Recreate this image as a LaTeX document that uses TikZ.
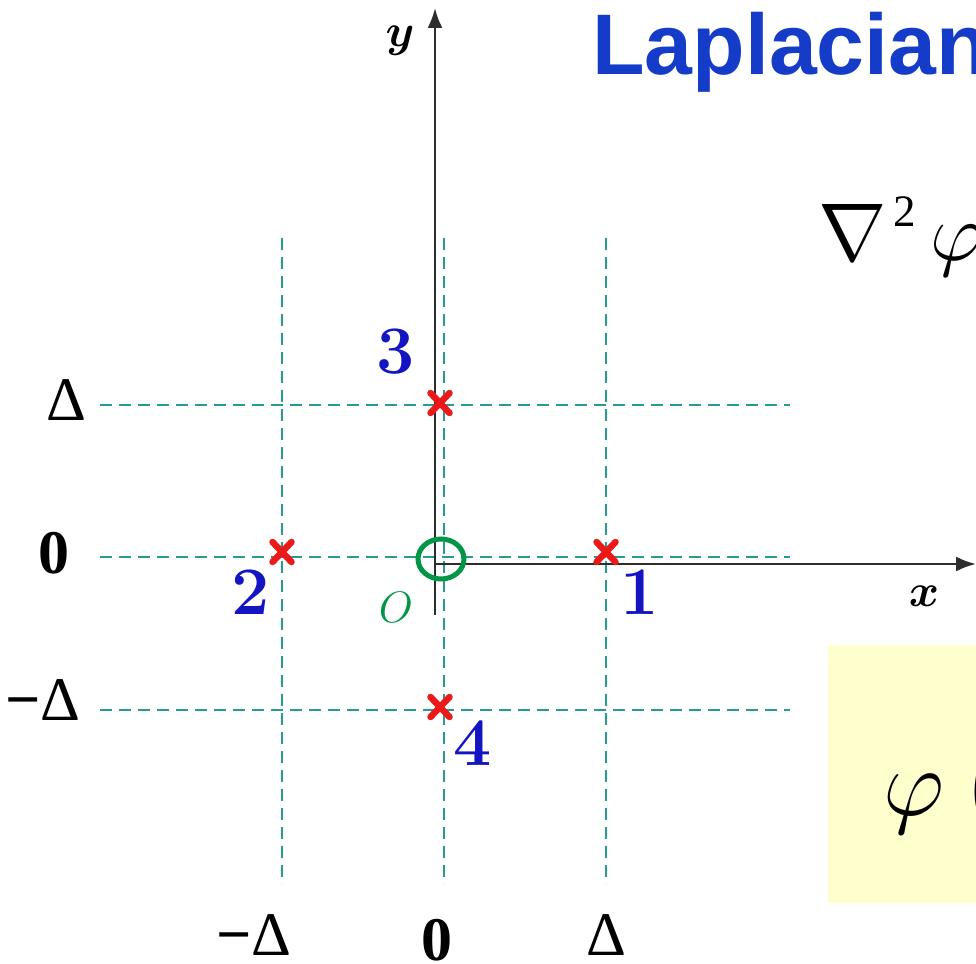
\RequirePackage{fix-cm}
\documentclass[tikz,border=0pt]{standalone}
\usepackage{amsmath}
\usepackage{fontspec}
\usetikzlibrary{arrows.meta,shapes.geometric}
\newfontfamily\titlefont{Liberation Sans}
\newfontfamily\tickfont{Liberation Serif}
\definecolor{titleblue}{RGB}{20,60,200}
\definecolor{numblue}{RGB}{20,20,195}
\definecolor{gridteal}{RGB}{40,155,145}
\definecolor{crossred}{RGB}{235,25,25}
\definecolor{origgreen}{RGB}{0,150,70}
\definecolor{boxyellow}{RGB}{255,255,205}
\definecolor{axisgray}{RGB}{45,45,45}
\newcommand{\tickdelta}{{\mdseries Δ}}
\tikzset{
  gridline/.style={draw=gridteal, line width=1.4pt, dash pattern=on 12pt off 7pt},
  axisline/.style={draw=axisgray, line width=2.4pt, -{Latex[length=20pt,width=15pt]}},
  crossmark/.style={draw=crossred, line width=6.5pt, line cap=round},
  ticklabel/.style={inner sep=0pt, font=\tickfont\bfseries\fontsize{62}{62}\selectfont},
  numlabel/.style={inner sep=0pt, text=numblue, font=\bfseries\fontsize{68}{68}\selectfont},
  axislabel/.style={inner sep=0pt, font=\fontsize{46}{46}\selectfont},
}
\begin{document}
\begin{tikzpicture}[x=1pt,y=-1pt]
\useasboundingbox (0,0) rectangle (976,963);
\clip (0,0) rectangle (976,963);
% title
\node[anchor=base west, inner sep=0pt, text=titleblue,
  font=\titlefont\bfseries\fontsize{86}{86}\selectfont] (title) at (592,75) {Laplacian};
% formula
\node[anchor=base west, inner sep=0pt, font=\fontsize{82}{82}\selectfont] (lap) at (818,260)
  {$\nabla\kern7pt\raisebox{34pt}{\tickfont\fontsize{45}{45}\selectfont 2}\kern14pt\varphi$};
% yellow box
\fill[boxyellow] (828,645) rectangle (980,903);
\node[anchor=base west, inner sep=0pt, font=\fontsize{95}{95}\selectfont] (phi) at (883,815) {$\varphi\kern22pt($};
% grid lines
\coordinate (hA1) at (100,405); \coordinate (hA2) at (790,405);
\coordinate (hB1) at (100,557); \coordinate (hB2) at (790,557);
\coordinate (hC1) at (100,710); \coordinate (hC2) at (790,710);
\coordinate (vA1) at (282,238); \coordinate (vA2) at (282,884);
\coordinate (vB1) at (444,238); \coordinate (vB2) at (444,884);
\coordinate (vC1) at (606,238); \coordinate (vC2) at (606,884);
\draw[gridline] (hA1) -- (hA2);
\draw[gridline] (hB1) -- (hB2);
\draw[gridline] (hC1) -- (hC2);
\draw[gridline] (vA1) -- (vA2);
\draw[gridline] (vB1) -- (vB2);
\draw[gridline] (vC1) -- (vC2);
% axes
\coordinate (ybot) at (435,615);
\coordinate (ytop) at (435,8);
\coordinate (xleft) at (435,564);
\coordinate (xright) at (976,564);
\draw[axisline] (ybot) -- (ytop);
\draw[axisline] (xleft) -- (xright);
\node[axislabel] (ylab) at (400,41) {$\boldsymbol{y}$};
\node[axislabel] (xlab) at (924,596) {$\boldsymbol{x}$};
% origin circle
\node[draw=origgreen, line width=5pt, ellipse, inner sep=0pt, minimum width=46pt, minimum height=40pt] (orig) at (441,559) {};
\node[inner sep=0pt, text=origgreen, font=\fontsize{44}{44}\selectfont] (olab) at (396,607) {$O$};
% crosses
\coordinate (p1) at (606,552);
\coordinate (p2) at (282,552);
\coordinate (p3) at (440,403);
\coordinate (p4) at (440,707);
\foreach \p in {p1,p2,p3,p4}{
  \draw[crossmark] ([shift={(-9.5,-10)}]\p) -- ([shift={(9.5,10)}]\p);
  \draw[crossmark] ([shift={(-9.5,10)}]\p) -- ([shift={(9.5,-10)}]\p);
}
\node[numlabel] (n1) at (640,592) {1};
\node[numlabel] (n2) at (251,592) {2};
\node[numlabel] (n3) at (396,352) {3};
\node[numlabel] (n4) at (473,743) {4};
% tick labels
\node[ticklabel] (tl1) at (66,400) {\tickdelta};
\node[ticklabel] (tl2) at (54,553) {0};
\node[ticklabel] (tl3) at (43,700) {−\tickdelta};
\node[ticklabel] (tb1) at (254,935) {−\tickdelta};
\node[ticklabel] (tb2) at (437,940) {0};
\node[ticklabel] (tb3) at (606,935) {\tickdelta};
\end{tikzpicture}
\end{document}
